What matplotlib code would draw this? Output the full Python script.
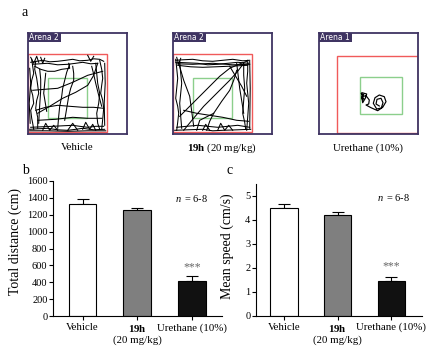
import matplotlib
matplotlib.use("Agg")
import matplotlib.pyplot as plt
from matplotlib.patches import Rectangle

plt.rcParams['font.family'] = ['Liberation Serif', 'DejaVu Serif']
plt.rcParams['mathtext.fontset'] = 'custom'
plt.rcParams['mathtext.rm'] = 'Liberation Serif'
plt.rcParams['mathtext.bf'] = 'Liberation Serif:bold'
plt.rcParams['mathtext.it'] = 'Liberation Serif:italic'

# ---------------- data ----------------
groups = ["Vehicle", r"$\mathbf{19h}$" + "\n(20 mg/kg)", "Urethane (10%)"]
captions = ["Vehicle", r"$\mathbf{19h}$ (20 mg/kg)", "Urethane (10%)"]
arena_names = ["Arena 2", "Arena 2", "Arena 1"]

distance = [1330, 1255, 420]
distance_err = [55, 30, 50]
speed = [4.47, 4.21, 1.43]
speed_err = [0.18, 0.11, 0.17]
bar_colors = ["white", "#7f7f7f", "#111111"]

dist_ticks = [0, 200, 400, 600, 800, 1000, 1200, 1400, 1600]
speed_ticks = [0, 1, 2, 3, 4, 5]

# arena zones (x0, x1, y0, y1) in arena units, y downward
red_zones = [(0, 79, 21, 98.4), (0, 79, 21, 98.4), (18.3, 99, 22.7, 99.4)]
green_zones = [(20, 59, 44.4, 85), (20, 59, 44.4, 85), (41.6, 83, 43.4, 81)]

track_vehicle = [
    [(3, 29), (9, 28), (15, 27), (22, 28.5), (30, 28), (38, 27), (45, 26), (52, 27.5), (60, 27), (66, 25.5), (72, 26), (76, 28)],
    [(5, 31), (12, 30.5), (20, 30), (30, 31.5), (40, 31), (48, 30), (55, 29), (63, 30.5), (70, 30)],
    [(4, 26), (5, 33), (6, 40), (4, 47), (3, 55), (5, 62), (6, 70), (3, 77), (4, 85), (5, 90), (6, 96)],
    [(8, 28), (7, 36), (9, 45), (10, 52), (11, 60), (9, 67), (8, 75), (10, 84), (10, 95)],
    [(2, 35), (3, 50), (1.5, 70), (2.5, 90)],
    [(72, 27), (74, 36), (75, 45), (74, 52), (73, 60), (75, 67), (76, 75), (75, 86), (74, 96)],
    [(68, 30), (69, 40), (70, 50), (72, 60), (71, 70), (69, 80), (70, 90), (72, 96)],
    [(77, 30), (77.5, 50), (76.5, 70), (77, 92)],
    [(2, 96), (10, 95.5), (20, 95), (30, 96.5), (40, 97), (48, 96), (55, 95), (66, 96.5), (77, 96)],
    [(3, 94), (14, 93.5), (25, 93), (35, 92.5), (45, 92), (52, 93), (60, 94), (68, 93), (76, 93)],
    [(2, 97.5), (20, 97.5), (40, 98), (60, 97.5), (78, 97.5)],
    [(7, 33), (13, 36), (20, 38), (27, 38), (34, 36), (42, 35), (41, 30)],
    [(42, 31), (39, 39), (37, 47), (35, 55), (34, 63), (32, 73), (31, 83), (30, 95)],
    [(45, 33), (46, 40), (46, 47), (43, 55), (41, 63), (39, 75), (37, 87)],
    [(10, 80), (22, 73), (35, 65), (48, 59), (60, 52), (66, 42), (70, 30)],
    [(5, 57), (17, 56), (30, 55), (45, 49), (60, 42), (75, 38)],
    [(8, 77), (18, 74), (30, 72), (42, 73), (55, 74), (66, 74), (76, 75)],
    [(10, 87), (28, 86), (45, 84), (60, 85), (74, 85)],
    [(12, 36), (13, 46), (13, 57), (12, 72), (11, 90)],
    [(64, 33), (66, 41), (68, 50), (71, 62), (74, 73)],
    [(18, 40), (16, 60), (19, 78)],
    [(3, 24), (6, 30), (9, 23), (11, 29)],
    [(13, 24), (15, 30), (17, 25)],
    [(60, 22), (63, 28), (66, 23)],
    [(40, 97), (45, 90), (50, 97)],
    [(55, 96), (58, 89), (62, 96), (65, 91), (68, 97)],
    [(15, 97), (18, 90), (22, 97), (26, 92), (30, 97)],
]

track_19h = [
    [(3, 27), (10, 26.5), (20, 26), (30, 27.5), (40, 28), (50, 27), (60, 26), (70, 27.5), (77, 27)],
    [(3, 29), (14, 29.5), (25, 30), (35, 31.5), (45, 31), (55, 30), (65, 29), (76, 30)],
    [(5, 32), (18, 33.5), (30, 34), (43, 33.5), (55, 33), (65, 32.5), (75, 32)],
    [(4, 30.5), (20, 31), (40, 30), (60, 31.5), (77, 31)],
    [(3, 26), (4, 35), (5, 45), (4, 55), (3, 65), (5, 73), (6, 80), (5, 89), (4, 97)],
    [(7, 28), (8, 40), (9, 50), (8, 60), (7, 70), (8, 83), (9, 95)],
    [(75, 27), (75, 38), (74, 50), (75, 60), (76, 70), (75, 84), (74, 97)],
    [(71, 30), (71, 42), (72, 55), (71, 67), (70, 80), (72, 89), (73, 96)],
    [(77, 28), (77.5, 55), (77, 95)],
    [(2, 97), (15, 96.5), (30, 96), (40, 97.5), (50, 97), (65, 96.5), (78, 96)],
    [(4, 94), (14, 93), (25, 92), (35, 93), (45, 94), (55, 93), (65, 92), (77, 94)],
    [(7, 83), (20, 70), (37, 53), (47, 43), (57, 35), (66, 31), (74, 28)],
    [(11, 97), (20, 86), (31, 73), (44, 60), (57, 47), (65, 38), (71, 30)],
    [(57, 33), (63, 43), (69, 53), (74, 63)],
    [(34, 97), (37, 88), (41, 80), (49, 68), (57, 57), (61, 47), (64, 37)],
    [(11, 77), (24, 80), (37, 82), (50, 84), (64, 87), (76, 88)],
    [(24, 97), (27, 87), (41, 80)],
    [(6, 30), (11, 47), (17, 63), (19, 78), (21, 93)],
    [(64, 30), (67, 55), (71, 80)],
    [(4, 24), (6, 31), (8, 25)],
    [(45, 97), (48, 90), (52, 97), (56, 92), (60, 97)],
    [(30, 97), (33, 91), (37, 97)],
]

track_urethane = [
    [(43.3, 59.4), (48, 60.7), (46.6, 65), (44, 69.4), (43, 63.4), (47.3, 62.4),
     (50.6, 66.7), (50, 70.7), (47.3, 71.7), (52.3, 74.4), (59, 77.4), (64, 74),
     (67.3, 68.4), (65.6, 63.4), (60.6, 61.7), (56.3, 64.4), (54.6, 70), (58, 75.7),
     (62.6, 74.7), (64.3, 69.4), (62.3, 65), (58.3, 66), (57.3, 70.7), (60.6, 72.7)],
    [(42.5, 60), (44, 62), (42.8, 65), (44.5, 67), (43, 61)],
    [(43.5, 60.5), (45, 61), (44, 64), (45.5, 66)],
]
tracks = [track_vehicle, track_19h, track_urethane]

# ---------------- figure ----------------
W, H = 437, 358
fig = plt.figure(figsize=(W / 100, H / 100), dpi=100)

frame_col = "#3f3462"
arena_left = [27.7, 172.7, 318.7]
for i in range(3):
    ax = fig.add_axes([arena_left[i] / W, (H - 134) / H, 99 / W, 100.7 / H])
    ax.set_xlim(0, 99)
    ax.set_ylim(100.7, 0)
    ax.set_xticks([])
    ax.set_yticks([])
    for s in ax.spines.values():
        s.set_color(frame_col)
        s.set_linewidth(1.3)
    x0, x1, y0, y1 = red_zones[i]
    ax.add_patch(Rectangle((x0, y0), x1 - x0, y1 - y0, fill=False,
                           edgecolor="#f05a5a", lw=1.0))
    x0, x1, y0, y1 = green_zones[i]
    ax.add_patch(Rectangle((x0, y0), x1 - x0, y1 - y0, fill=False,
                           edgecolor="#8ccf8c", lw=1.0))
    for tr in tracks[i]:
        xs = [p[0] for p in tr]
        ys = [p[1] for p in tr]
        ax.plot(xs, ys, color="black", lw=0.75 if i < 2 else 0.85)
    ax.add_patch(Rectangle((0, 0), 33, 8.6, facecolor=frame_col,
                           edgecolor="none"))
    ax.text(1.0, 4.4, arena_names[i], color="white", fontsize=5.5,
            family="DejaVu Sans", va="center", ha="left")
    fig.text((arena_left[i] + 49.5) / W, (H - 148) / H, captions[i],
             ha="center", va="center", fontsize=7.8)

fig.text(25 / W, (H - 13) / H, "a", ha="center", va="center", fontsize=10)
fig.text(25 / W, (H - 171) / H, "b", ha="center", va="center", fontsize=10)
fig.text(230 / W, (H - 170) / H, "c", ha="center", va="center", fontsize=10)


def bar_panel(rect, vals, errs, ylim, ticks, ylabel, xlim, lblpos, npos, starpos):
    ax = fig.add_axes(rect)
    xs = list(range(len(vals)))
    ax.bar(xs, vals, width=0.51, color=bar_colors, edgecolor="black", lw=0.8,
           zorder=2)
    ax.errorbar(xs, vals, yerr=[[0] * len(errs), errs], fmt="none",
                ecolor="black", elinewidth=0.8, capsize=4.5, capthick=0.8,
                zorder=1)
    ax.set_xlim(*xlim)
    ax.set_ylim(*ylim)
    ax.set_yticks(ticks)
    ax.set_yticklabels([str(t) for t in ticks])
    ax.set_xticks(xs)
    ax.set_xticklabels(groups)
    ax.spines["top"].set_visible(False)
    ax.spines["right"].set_visible(False)
    for s in ("left", "bottom"):
        ax.spines[s].set_linewidth(0.8)
    ax.tick_params(axis="y", labelsize=7.5, length=3, width=0.8, pad=1)
    ax.tick_params(axis="x", labelsize=7.8, length=3, width=0.8, pad=2)
    ax.set_ylabel(ylabel, fontsize=10)
    ax.yaxis.set_label_coords(*lblpos)
    ax.text(npos[0], npos[1], r"$n\,$ = 6-8", ha="center", va="center",
            fontsize=7.5)
    ax.text(starpos[0], starpos[1], "***", ha="center", va="center",
            fontsize=8.5, color="#666666")
    return ax


bar_panel([53 / W, (H - 316) / H, 169 / W, 135 / H], distance, distance_err,
          (0, 1600), dist_ticks, "Total distance (cm)", (-0.54, 2.55),
          (-0.183, 0.55), (2.0, 1394), (2.0, 575))
bar_panel([256 / W, (H - 315.7) / H, 166 / W, 132 / H], speed, speed_err,
          (0, 5.5), speed_ticks, "Mean speed (cm/s)", (-0.52, 2.57),
          (-0.133, 0.524), (2.04, 4.93), (2.0, 2.05))

fig.savefig("out.png", dpi=100)
